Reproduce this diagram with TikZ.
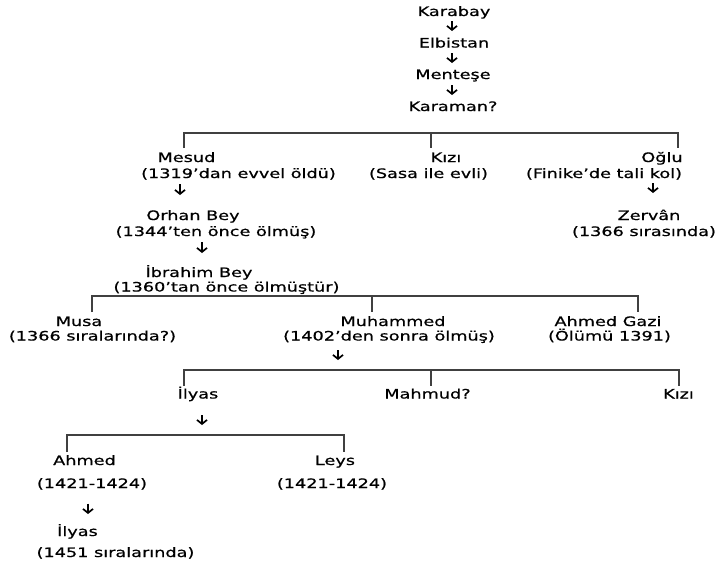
\documentclass[tikz,border=0pt]{standalone}
\usepackage{fontspec}
\setmainfont{DejaVu Sans}[FakeStretch=1.36,FakeBold=0.7]
\usetikzlibrary{arrows.meta}
\begin{document}
\begin{tikzpicture}[x=1pt,y=-1pt,
  lbl/.style={inner sep=0pt,anchor=base,font=\fontsize{13}{15}\selectfont},
  br/.style={draw=black!75,line width=1.3pt},
  arr/.style={draw=black,line width=1.7pt,-{Straight Barb[length=4pt,width=10pt]}}]
\useasboundingbox (0,0) rectangle (716,570);
% top chain
\node[lbl] (karabay) at (454,16) {Karabay};
\node[lbl] (elbistan) at (454,47.5) {Elbistan};
\node[lbl] (mentese) at (453,79) {Menteşe};
\node[lbl] (karaman) at (453,111) {Karaman?};
\coordinate (a1s) at (452,21); \coordinate (a1e) at (452,31);
\coordinate (a2s) at (452,53); \coordinate (a2e) at (452,63);
\coordinate (a3s) at (452,85); \coordinate (a3e) at (452,95);
\draw[arr] (a1s) -- (a1e);
\draw[arr] (a2s) -- (a2e);
\draw[arr] (a3s) -- (a3e);
% bracket 1
\coordinate (b1l) at (184,133); \coordinate (b1m) at (431,133); \coordinate (b1r) at (678,133);
\coordinate (b1ld) at (184,148); \coordinate (b1md) at (431,148); \coordinate (b1rd) at (678,148);
\draw[br] (b1ld) -- (b1l) -- (b1r) -- (b1rd);
\draw[br] (b1m) -- (b1md);
% Mesud branch
\node[lbl] (mesud) at (186.5,162) {Mesud};
\node[lbl] (mesudd) at (238.5,178) {(1319’dan evvel öldü)};
\coordinate (a4s) at (180,184); \coordinate (a4e) at (180,195);
\draw[arr] (a4s) -- (a4e);
\node[lbl] (orhan) at (193,220) {Orhan Bey};
\node[lbl] (orhand) at (216,236) {(1344’ten önce ölmüş)};
\coordinate (a5s) at (202,242); \coordinate (a5e) at (202,253);
\draw[arr] (a5s) -- (a5e);
\node[lbl] (ibrahim) at (199,277) {İbrahim Bey};
\node[lbl] (ibrahimd) at (226.5,291.5) {(1360’tan önce ölmüştür)};
% Kizi / Oglu
\node[lbl] (kizi1) at (446,162) {Kızı};
\node[lbl] (kizi1d) at (428.5,178) {(Sasa ile evli)};
\node[lbl] (oglu) at (662,162) {Oğlu};
\node[lbl] (oglud) at (604,178) {(Finike’de tali kol)};
\coordinate (a6s) at (653,183); \coordinate (a6e) at (653,193);
\draw[arr] (a6s) -- (a6e);
\node[lbl] (zervan) at (649,220) {Zervân};
\node[lbl] (zervand) at (644,236) {(1366 sırasında)};
% bracket 2
\coordinate (b2l) at (92,296); \coordinate (b2m) at (372,296); \coordinate (b2r) at (638,296);
\coordinate (b2ld) at (92,312); \coordinate (b2md) at (372,312); \coordinate (b2rd) at (638,312);
\draw[br] (b2ld) -- (b2l) -- (b2r) -- (b2rd);
\draw[br] (b2m) -- (b2md);
\node[lbl] (musa) at (79,326) {Musa};
\node[lbl] (musad) at (92.5,340.5) {(1366 sıralarında?)};
\node[lbl] (muhammed) at (393,326) {Muhammed};
\node[lbl] (muhammedd) at (389,340.5) {(1402’den sonra ölmüş)};
\node[lbl] (ahmedgazi) at (608,326) {Ahmed Gazi};
\node[lbl] (ahmedgazid) at (609.5,340.5) {(Ölümü 1391)};
\coordinate (a7s) at (338,350); \coordinate (a7e) at (338,360);
\draw[arr] (a7s) -- (a7e);
% bracket 3
\coordinate (b3l) at (184,370); \coordinate (b3m) at (431,370); \coordinate (b3r) at (679,370);
\coordinate (b3ld) at (184,386); \coordinate (b3md) at (431,386); \coordinate (b3rd) at (679,386);
\draw[br] (b3ld) -- (b3l) -- (b3r) -- (b3rd);
\draw[br] (b3m) -- (b3md);
\node[lbl] (ilyas1) at (198,398.5) {İlyas};
\node[lbl] (mahmud) at (427.5,398.5) {Mahmud?};
\node[lbl] (kizi2) at (678.5,398.5) {Kızı};
\coordinate (a8s) at (202,415); \coordinate (a8e) at (202,425);
\draw[arr] (a8s) -- (a8e);
% bracket 4
\coordinate (b4l) at (67,435); \coordinate (b4r) at (344,435);
\coordinate (b4ld) at (67,452); \coordinate (b4rd) at (344,452);
\draw[br] (b4ld) -- (b4l) -- (b4r) -- (b4rd);
\node[lbl] (ahmed) at (84.5,465) {Ahmed};
\node[lbl] (ahmedd) at (92,488) {(1421-1424)};
\node[lbl] (leys) at (335,465) {Leys};
\node[lbl] (leysd) at (332,488) {(1421-1424)};
\coordinate (a9s) at (88,503.5); \coordinate (a9e) at (88,514);
\draw[arr] (a9s) -- (a9e);
\node[lbl] (ilyas2) at (77.5,536) {İlyas};
\node[lbl] (ilyas2d) at (115.5,557) {(1451 sıralarında)};
\end{tikzpicture}
\end{document}
